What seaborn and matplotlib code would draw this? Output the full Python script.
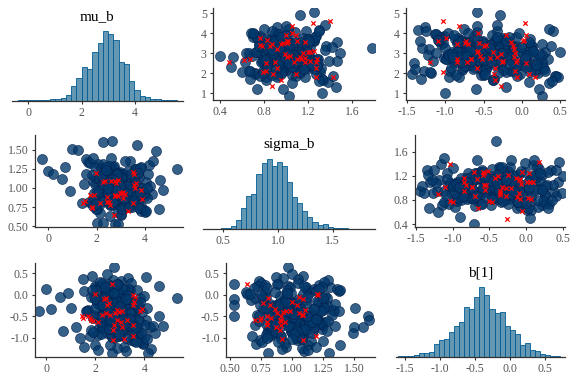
import matplotlib
matplotlib.use("Agg")
import matplotlib.pyplot as plt
import seaborn as sns

# ---- posterior draws shared by both triangles (bulk of the cloud) ----
mu_draws = [
    2.91, 3.42, 2.15, 2.68, 3.87, 1.92, 3.05, 2.47, 3.61, 2.79,
    1.63, 3.18, 2.56, 4.05, 2.33, 2.98, 3.74, 2.12, 2.86, 3.33,
    2.64, 1.78, 3.52, 2.41, 3.96, 2.72, 3.11, 2.04, 4.21, 2.95,
    3.27, 2.51, 1.55, 3.68, 2.83, 2.26, 3.46, 2.69, 3.92, 2.38,
    3.01, 2.17, 3.58, 2.77, 1.86, 3.24, 4.12, 2.59, 3.37, 2.89,
    2.45, 3.82, 1.98, 3.14, 2.71, 3.55, 2.29, 4.28, 2.93, 2.62,
    3.49, 1.71, 3.08, 2.36, 3.79, 2.81, 2.08, 3.64, 2.53, 3.21,
    4.01, 2.74, 1.94, 3.39, 2.88, 2.22, 3.71, 2.49, 3.16, 2.97,
    1.49, 3.85, 2.66, 3.29, 2.42, 3.58, 2.01, 3.03, 2.84, 4.15,
    2.31, 3.44, 2.57, 1.82, 3.12, 2.76, 3.66, 2.19, 3.35, 2.92,
    3.98, 2.61, 1.67, 3.51, 2.87, 2.44, 3.19, 2.73, 4.08, 2.27,
    3.06, 2.54, 3.77, 1.89, 3.31, 2.99, 2.39, 3.62, 2.11, 2.82,
    2.74, 3.21, 2.38, 3.56, 2.95, 2.12, 3.34, 2.66, 3.83, 2.49,
    3.08, 2.87, 1.97, 3.47, 2.58, 3.15, 2.79, 3.69, 2.27, 3.02,
    2.91, 2.44, 3.38, 2.68, 1.84, 3.26, 2.83, 3.59, 2.35, 3.11,
    2.71, 3.95, 2.52, 2.98, 3.43, 2.19, 3.05, 2.62, 3.74, 2.88,
    2.41, 3.29, 2.76, 3.52, 2.06, 3.18, 2.94, 2.55, 3.64, 2.81,
    3.36, 2.24, 3.01, 2.69, 4.02, 2.47, 3.23, 2.86, 1.91, 3.45,
    2.64, 3.09, 2.33, 3.78, 2.97, 2.51, 3.32, 2.78, 2.15, 3.57,
    2.89, 3.13, 2.43, 3.67, 2.72, 3.04, 2.28, 3.41, 2.84, 2.59,
    3.88, 2.37, 3.19, 2.93, 2.03, 3.53, 2.67, 3.27, 2.46, 3.72,
    2.99, 2.56, 3.35, 2.75, 2.21, 3.61, 2.92, 3.07, 2.39, 3.49,
    2.63, 3.24, 2.85, 1.99, 3.41, 2.77, 3.15, 2.53, 3.81, 2.96,
]
sigma_draws = [
    0.97, 1.12, 0.84, 1.28, 0.91, 1.05, 0.73, 1.19, 0.99, 0.88,
    1.34, 0.95, 0.79, 1.08, 1.22, 0.86, 1.01, 0.67, 1.15, 0.93,
    1.26, 0.82, 1.04, 0.96, 0.71, 1.17, 0.89, 1.31, 1.02, 0.77,
    1.10, 0.92, 1.38, 0.85, 0.98, 1.21, 0.75, 1.07, 0.94, 1.14,
    0.64, 1.00, 1.25, 0.87, 1.09, 0.81, 1.18, 0.95, 1.36, 0.90,
    1.03, 0.70, 1.13, 0.97, 1.29, 0.83, 1.06, 0.92, 1.20, 0.78,
    0.99, 1.33, 0.86, 1.11, 0.74, 1.04, 0.94, 1.24, 0.89, 1.16,
    0.68, 1.01, 1.27, 0.84, 1.08, 0.96, 1.19, 0.80, 1.35, 0.93,
    1.05, 0.76, 1.14, 0.91, 1.23, 0.99, 0.72, 1.10, 0.88, 1.30,
    0.95, 1.02, 0.63, 1.17, 0.85, 1.07, 0.98, 1.26, 0.79, 1.12,
    0.90, 1.39, 0.82, 1.03, 0.69, 1.21, 0.97, 1.09, 0.87, 1.32,
    1.00, 0.77, 1.15, 0.93, 1.06, 0.66, 1.24, 0.91, 1.13, 0.96,
    1.02, 0.87, 1.14, 0.93, 1.21, 0.79, 1.06, 0.97, 1.27, 0.84,
    0.99, 1.11, 0.72, 1.04, 0.91, 1.18, 0.95, 0.82, 1.09, 1.00,
    0.88, 1.24, 0.96, 1.07, 0.76, 1.13, 0.92, 1.01, 1.19, 0.86,
    1.05, 0.94, 1.29, 0.81, 1.10, 0.98, 0.89, 1.16, 0.74, 1.03,
    0.96, 1.22, 0.85, 1.08, 0.93, 1.12, 0.78, 1.00, 1.25, 0.90,
    1.06, 0.83, 1.15, 0.97, 0.70, 1.09, 0.94, 1.20, 0.87, 1.02,
    1.13, 0.80, 0.99, 1.26, 0.91, 1.04, 0.77, 1.17, 0.95, 1.08,
    0.86, 1.01, 1.23, 0.89, 1.11, 0.73, 1.05, 0.98, 1.18, 0.92,
    1.00, 1.28, 0.84, 1.07, 0.96, 1.14, 0.81, 1.03, 0.93, 1.20,
    0.88, 1.10, 0.75, 1.01, 1.16, 0.90, 1.06, 0.97, 1.24, 0.83,
    1.12, 0.94, 1.04, 0.79, 1.19, 0.99, 0.87, 1.08, 0.95, 1.02,
]
b1_draws = [
    -0.41, 0.12, -0.78, -0.25, -1.02, -0.53, 0.31, -0.66, -0.18, -0.89,
    -0.37, -1.21, -0.05, -0.59, 0.22, -0.46, -0.83, -0.12, -0.71, 0.38,
    -0.29, -0.95, -0.49, 0.04, -1.14, -0.62, -0.21, 0.17, -0.76, -0.34,
    -1.31, -0.43, 0.09, -0.87, -0.15, -0.56, 0.27, -0.99, -0.39, -0.68,
    0.01, -0.52, -1.08, -0.24, 0.43, -0.81, -0.32, -0.61, 0.14, -0.93,
    -0.45, -0.08, -1.18, -0.57, 0.34, -0.74, -0.27, -1.26, -0.48, 0.07,
    -0.85, -0.36, -0.64, 0.19, -1.05, -0.42, -0.14, -0.79, 0.26, -0.55,
    -0.97, -0.31, -0.02, -0.69, -1.23, -0.47, 0.11, -0.88, -0.22, -0.58,
    0.36, -1.11, -0.40, -0.73, -0.10, -0.51, 0.21, -0.91, -0.35, -1.35,
    -0.63, -0.19, 0.06, -0.82, -0.44, -1.01, -0.26, 0.29, -0.67, -0.54,
    -0.04, -1.16, -0.38, -0.75, 0.16, -0.60, -0.30, -0.94, 0.41, -0.47,
    -0.84, -0.13, -1.07, -0.50, -0.23, 0.02, -0.70, -0.33, -1.28, -0.57,
    -0.33, -0.71, 0.05, -0.52, -0.18, -0.94, -0.41, 0.21, -0.63, -0.27,
    -0.85, -0.12, -0.48, -1.06, -0.36, 0.13, -0.58, -0.22, -0.77, -0.44,
    0.26, -0.67, -0.31, -0.99, -0.06, -0.54, -0.39, -0.81, 0.09, -0.47,
    -0.16, -1.12, -0.60, -0.29, -0.73, 0.18, -0.43, -0.89, -0.25, -0.56,
    -0.02, -0.65, -0.37, -1.03, -0.20, -0.50, 0.23, -0.79, -0.35, -0.61,
    -0.09, -0.92, -0.46, -0.28, -0.70, 0.02, -0.53, -0.14, -0.86, -0.40,
    -0.57, 0.15, -0.74, -0.32, -0.97, -0.45, -0.11, -0.66, -0.24, -0.83,
    0.07, -0.51, -0.38, -1.09, -0.19, -0.62, 0.28, -0.42, -0.75, -0.30,
    -0.88, -0.07, -0.55, -0.34, 0.11, -0.69, -0.47, -1.00, -0.15, -0.59,
    -0.26, -0.80, 0.00, -0.44, -0.64, -0.21, -0.95, -0.37, 0.19, -0.72,
    -0.49, -0.10, -0.84, -0.31, -0.56, 0.04, -0.68, -0.40, -0.17, -0.91,
]

# ---- outlying draws, upper triangle ----
mu_tail_upper = [2.85, 2.82, 2.07, 1.70, 1.20, 0.85, 0.98, 1.22, 1.28, 1.85,
                 4.92, 5.05, 4.40, 4.37, 3.27, 3.57, 1.95, 2.48, 2.20, 3.60,
                 3.00, 2.60, 3.30, 2.10, 3.07, 1.82, 2.30, 4.20, 1.60, 4.10]
sigma_tail_upper = [0.40, 0.515, 0.60, 0.67, 0.74, 1.03, 1.325, 0.97, 1.455, 1.425,
                    1.127, 1.255, 1.35, 1.00, 1.78, 1.46, 0.95, 1.03, 0.91, 1.21,
                    1.49, 1.46, 1.42, 0.66, 1.19, 0.92, 0.50, 0.80, 1.30, 1.30]
b1_tail_upper = [-0.71, -0.90, -1.20, -1.32, -0.60, 0.26, -1.00, 0.22, -0.20, 0.45,
                 -0.28, -0.58, -0.33, -0.58, -0.41, 0.10, -1.44, -1.41, -1.39, -1.33,
                 -1.12, -0.67, -0.01, 0.30, 0.50, 0.48, 0.05, 0.35, 0.40, -1.25]

# ---- outlying draws, lower triangle ----
mu_tail_lower = [-0.27, 0.00, 0.21, 0.55, 0.91, 0.68, 1.00, 1.22, 2.28, 2.62,
                 3.66, 4.45, 4.34, 5.31, 4.59, 4.76, 4.10, 2.00, 2.28, 2.76,
                 1.86, 2.78, 2.47, 2.68, 1.55, 2.90, 4.60, 1.40]
sigma_tail_lower = [1.38, 1.22, 1.18, 1.12, 0.96, 1.28, 1.51, 1.50, 1.61, 1.62,
                    1.57, 1.49, 1.35, 1.25, 0.73, 0.97, 1.00, 0.535, 0.535, 0.53,
                    1.39, 0.97, 1.00, 0.81, 1.19, 0.53, 1.10, 0.80]
b1_tail_lower = [-0.37, 0.13, -0.33, -0.05, 0.03, -0.85, -0.30, -0.76, -0.50, -0.59,
                 -0.74, -0.90, -0.72, -0.07, -0.50, -0.73, -1.02, -0.10, -0.25, -0.50,
                 0.10, 0.64, 0.48, -1.35, -1.21, 0.24, 0.20, -1.00]

# ---- divergent transitions ----
mu_div_upper = [1.35, 1.65, 1.78, 1.80, 1.95, 1.97, 2.07, 2.10, 2.23, 2.27,
                2.53, 2.48, 2.55, 2.57, 2.57, 2.57, 2.60, 2.65, 2.68, 2.68,
                2.70, 2.70, 2.73, 2.78, 2.82, 2.87, 2.93, 2.98, 3.03, 3.07,
                3.10, 3.20, 3.35, 3.37, 3.42, 3.43, 3.45, 3.48, 3.50, 3.53,
                3.58, 3.62, 3.62, 3.65, 3.75, 3.90, 3.92, 3.98, 4.37, 4.50, 4.62]
sigma_div_upper = [0.87, 0.95, 1.43, 1.27, 0.88, 1.09, 0.79, 0.82, 1.27, 0.92,
                   0.485, 0.82, 0.90, 1.07, 1.17, 1.27, 1.22, 0.62, 1.10, 1.14,
                   0.67, 1.28, 1.17, 1.01, 1.13, 1.04, 0.99, 1.15, 1.22, 1.20,
                   1.25, 0.92, 0.78, 0.85, 0.76, 0.87, 0.95, 1.01, 0.97, 1.17,
                   1.10, 1.01, 1.02, 0.83, 0.76, 1.00, 1.09, 1.05, 1.05, 1.245, 1.40]
b1_div_upper = [-0.27, -0.35, 0.17, -0.06, -0.36, 0.09, -1.03, -0.09, -0.59, -0.35,
                -0.26, 0.06, -1.20, -0.07, -0.85, -0.71, -0.25, -0.06, -0.85, -0.67,
                -0.66, -0.52, -0.42, -0.33, -0.10, -0.55, -0.27, -0.09, -0.59, -0.38,
                -0.57, -0.10, -0.50, -0.12, -0.47, -0.70, -0.85, -0.74, -0.56, -0.14,
                0.01, -0.73, -1.10, 0.03, -0.99, -0.20, 0.05, -0.57, -0.82, 0.04, -1.03]

mu_div_lower = [1.99, 2.70, 2.49, 2.44, 2.26, 1.72, 1.79, 1.45, 1.52, 1.82,
                1.90, 2.13, 2.60, 2.80, 2.87, 2.98, 3.08, 2.87, 2.76, 3.04,
                3.08, 2.74, 3.18, 2.74, 3.55, 3.62, 3.58, 3.55, 3.82, 3.89,
                3.30, 3.52, 2.35, 2.42, 2.55, 3.52]
sigma_div_lower = [1.20, 0.64, 0.82, 0.88, 1.08, 0.91, 0.75, 0.80, 0.83, 0.74,
                   0.91, 0.80, 1.09, 1.06, 1.105, 0.93, 0.95, 0.90, 0.91, 0.94,
                   0.87, 0.90, 0.92, 1.09, 1.19, 1.06, 1.00, 1.04, 0.98, 0.86,
                   0.70, 0.80, 1.09, 0.81, 0.77, 1.21]
b1_div_lower = [0.02, 0.24, -0.24, -0.43, -0.47, -0.50, -0.53, -0.50, -0.55, -0.59,
                -0.61, -0.63, -0.47, -0.43, -0.36, -0.40, -0.38, -0.59, -0.71, -0.63,
                -0.74, -0.82, -1.03, -1.05, -0.96, -0.05, -0.16, -0.24, -0.37, -0.34,
                -0.59, -0.70, -0.11, -0.08, -0.19, 0.00]

# ---- marginal histograms (bin edges and counts) ----
mu_b_edges = [-0.36, -0.16, 0.03, 0.23, 0.43, 0.63, 0.82, 1.02, 1.22, 1.41, 1.61,
              1.81, 2.00, 2.20, 2.40, 2.60, 2.79, 2.99, 3.19, 3.38, 3.58, 3.78,
              3.97, 4.17, 4.37, 4.57, 4.76, 4.96, 5.16, 5.35, 5.55]
mu_b_counts = [1, 1, 1, 1, 1, 2, 3, 5, 8, 17, 42, 67, 100, 93, 145, 172, 207, 200,
               180, 115, 110, 58, 30, 13, 10, 5, 3, 2, 1, 1]
sigma_b_edges = [0.384, 0.431, 0.477, 0.524, 0.570, 0.617, 0.664, 0.710, 0.757,
                 0.803, 0.850, 0.897, 0.943, 0.990, 1.036, 1.083, 1.130, 1.176,
                 1.223, 1.269, 1.316, 1.363, 1.409, 1.456, 1.502, 1.549, 1.596,
                 1.642, 1.689, 1.735, 1.782]
sigma_b_counts = [1, 1, 2, 4, 9, 27, 62, 100, 105, 164, 199, 210, 190, 202, 190,
                  142, 97, 77, 54, 37, 20, 12, 14, 7, 4, 3, 3, 1, 1, 1]
b1_edges = [-1.590, -1.518, -1.446, -1.374, -1.302, -1.230, -1.158, -1.086, -1.014,
            -0.942, -0.870, -0.798, -0.726, -0.654, -0.582, -0.510, -0.438, -0.366,
            -0.294, -0.222, -0.150, -0.078, -0.006, 0.066, 0.138, 0.210, 0.282,
            0.354, 0.426, 0.498, 0.570, 0.642, 0.714]
b1_counts = [1, 2, 3, 5, 10, 10, 15, 37, 50, 54, 75, 93, 105, 148, 144, 178, 208,
             185, 142, 130, 135, 92, 80, 67, 35, 42, 20, 17, 9, 5, 3, 2]

# bayesplot "blue" scheme
MID, MID_HI = "#6497b1", "#005b96"
DARK, DARK_HI = "#03396c", "#011f4b"
AXIS_COL, TICK_COL = "#333333", "#555555"

sns.set_theme(style="ticks")
plt.rcParams["font.family"] = ["Liberation Serif", "DejaVu Serif"]
plt.rcParams["axes.unicode_minus"] = False

W, H = 576, 384
fig = plt.figure(figsize=(W / 100, H / 100), dpi=100)


def add_panel(l, r, t, b):
    return fig.add_axes([l / W, 1 - b / H, (r - l) / W, (b - t) / H])


def style(ax, hist=False):
    ax.spines["top"].set_visible(False)
    ax.spines["right"].set_visible(False)
    for s in ["left", "bottom"]:
        ax.spines[s].set_color(AXIS_COL)
        ax.spines[s].set_linewidth(0.9)
    if hist:
        ax.spines["left"].set_visible(False)
        ax.set_yticks([])
    ax.tick_params(length=2.5, width=0.8, color=AXIS_COL, labelcolor=TICK_COL,
                   labelsize=8.5, pad=2)
    ax.set_xlabel("")
    ax.set_ylabel("")


def hist_panel(ax, edges, counts, title, xlim, top, xticks, xlabels):
    sns.histplot(x=edges[:-1], weights=counts, bins=edges, color=MID,
                 edgecolor=MID_HI, linewidth=0.6, alpha=1, ax=ax)
    ax.set_xlim(*xlim)
    ax.set_ylim(0, top)
    ax.set_xticks(xticks, xlabels)
    style(ax, hist=True)
    ax.set_title(title, fontsize=11, color="black", pad=6)


def pair_panel(ax, x, y, xd, yd, xlim, ylim, xticks, xlabels, yticks, ylabels):
    sns.scatterplot(x=x, y=y, s=52, color=DARK, edgecolor=DARK_HI, linewidth=0.5,
                    alpha=0.8, ax=ax, legend=False)
    sns.scatterplot(x=xd, y=yd, marker="x", color="red", s=10, linewidth=0.9,
                    ax=ax, legend=False)
    ax.set_xlim(*xlim)
    ax.set_ylim(*ylim)
    ax.set_xticks(xticks, xlabels)
    ax.set_yticks(yticks, ylabels)
    style(ax)


mu_up = mu_draws + mu_tail_upper
sigma_up = sigma_draws + sigma_tail_upper
b1_up = b1_draws + b1_tail_upper
mu_lo = mu_draws + mu_tail_lower
sigma_lo = sigma_draws + sigma_tail_lower
b1_lo = b1_draws + b1_tail_lower

mu_ticks, mu_labels = [0, 2, 4], ["0", "2", "4"]
mu_yticks, mu_ylabels = [1, 2, 3, 4, 5], ["1", "2", "3", "4", "5"]
b1_ticks, b1_labels = [-1.5, -1.0, -0.5, 0.0, 0.5], ["-1.5", "-1.0", "-0.5", "0.0", "0.5"]

# row 1
hist_panel(add_panel(12, 183, 28.8, 100.5), mu_b_edges, mu_b_counts, "mu_b",
           (-0.6, 5.79), 215, mu_ticks, mu_labels)
pair_panel(add_panel(213, 375, 8, 100), sigma_up, mu_up, sigma_div_upper, mu_div_upper,
           (0.336, 1.809), (0.65, 5.25), [0.4, 0.8, 1.2, 1.6], ["0.4", "0.8", "1.2", "1.6"],
           mu_yticks, mu_ylabels)
pair_panel(add_panel(406, 565, 8, 100), b1_up, mu_up, b1_div_upper, mu_div_upper,
           (-1.513, 0.565), (0.65, 5.25), b1_ticks, b1_labels, mu_yticks, mu_ylabels)

# row 2
pair_panel(add_panel(35, 183, 135, 227), mu_lo, sigma_lo, mu_div_lower, sigma_div_lower,
           (-0.55, 5.57), (0.487, 1.697), mu_ticks, mu_labels,
           [0.5, 0.75, 1.0, 1.25, 1.5], ["0.50", "0.75", "1.00", "1.25", "1.50"])
hist_panel(add_panel(203, 375, 156.3, 229), sigma_b_edges, sigma_b_counts, "sigma_b",
           (0.314, 1.888), 218, [0.5, 1.0, 1.5], ["0.5", "1.0", "1.5"])
pair_panel(add_panel(415, 565, 135, 227), b1_up, sigma_up, b1_div_upper, sigma_div_upper,
           (-1.51, 0.527), (0.351, 1.877), b1_ticks, b1_labels,
           [0.4, 0.8, 1.2, 1.6], ["0.4", "0.8", "1.2", "1.6"])

# row 3
pair_panel(add_panel(35, 183, 263, 357), mu_lo, b1_lo, mu_div_lower, b1_div_lower,
           (-0.45, 5.57), (-1.45, 0.74), mu_ticks, mu_labels,
           [0.5, 0.0, -0.5, -1.0], ["0.5", "0.0", "-0.5", "-1.0"])
pair_panel(add_panel(226, 375, 263, 357), sigma_lo, b1_lo, sigma_div_lower, b1_div_lower,
           (0.468, 1.669), (-1.45, 0.74), [0.5, 0.75, 1.0, 1.25, 1.5],
           ["0.50", "0.75", "1.00", "1.25", "1.50"],
           [0.5, 0.0, -0.5, -1.0], ["0.5", "0.0", "-0.5", "-1.0"])
hist_panel(add_panel(396, 565, 284.7, 356.7), b1_edges, b1_counts, "b[1]",
           (-1.623, 0.78), 216, b1_ticks, b1_labels)

fig.savefig("out.png", dpi=100)
